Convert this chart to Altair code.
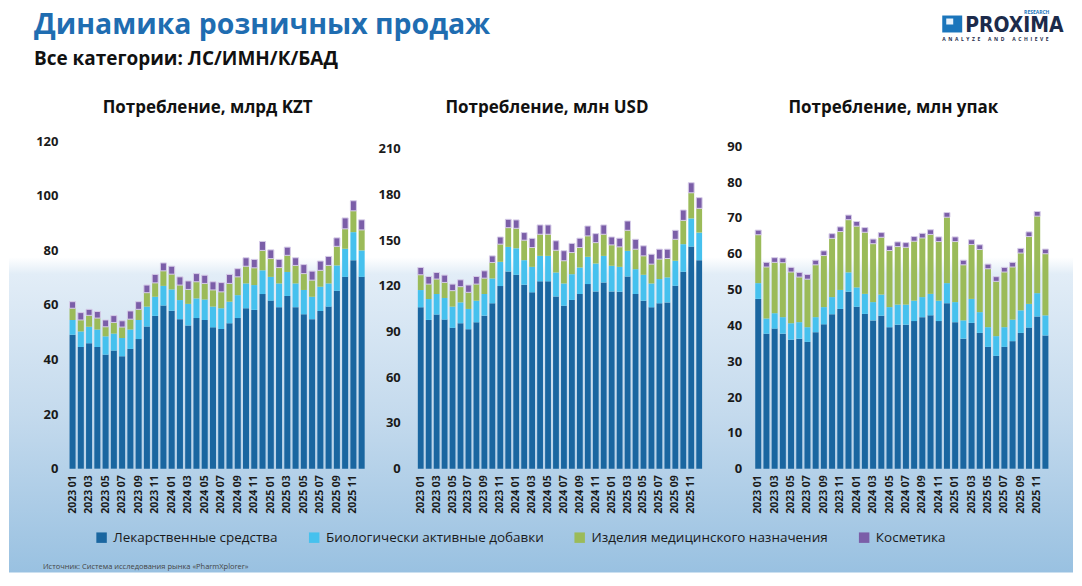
import altair as alt
import pandas as pd

years = ["2023", "2024", "2025"]
month_nums = ["01", "02", "03", "04", "05", "06", "07", "08", "09", "10", "11", "12"]
months = [f"{y} {m}" for y in years for m in month_nums]
tick_months = months[::2]

cats = ["Лекарственные средства", "Биологически активные добавки",
        "Изделия медицинского назначения", "Косметика"]
colors = ["#1a66a0", "#46c1ee", "#9bbb59", "#7b5ea8"]

# Потребление, млрд KZT
ls_kzt = [49.1, 44.6, 46.0, 44.6, 41.8, 43.3, 41.2, 43.9, 47.5, 52.1, 56.0, 59.8,
          57.9, 54.8, 52.5, 55.2, 54.5, 51.8, 51.2, 53.3, 55.2, 58.8, 58.2, 64.0,
          61.6, 59.2, 63.3, 59.2, 56.6, 54.8, 57.8, 59.4, 65.2, 70.3, 76.4, 70.3]
bad_kzt = [5.4, 5.7, 6.0, 6.4, 6.7, 6.2, 6.7, 7.1, 7.0, 7.3, 7.0, 7.2,
           7.8, 7.0, 7.9, 7.2, 7.5, 7.6, 7.6, 7.9, 8.4, 9.1, 9.1, 8.7,
           8.7, 8.7, 8.8, 8.7, 8.9, 8.2, 8.9, 8.5, 9.3, 10.3, 10.3, 9.7]
imn_kzt = [4.3, 4.2, 4.2, 4.2, 3.5, 4.1, 4.0, 3.8, 3.9, 5.1, 5.1, 5.5,
           5.6, 5.5, 5.3, 6.1, 5.9, 6.1, 6.0, 6.7, 6.7, 6.3, 6.3, 7.3,
           6.7, 5.8, 6.1, 6.6, 6.0, 6.1, 6.0, 6.6, 7.0, 7.3, 7.8, 7.5]
k_kzt = [2.4, 2.7, 2.2, 2.4, 2.5, 2.5, 2.3, 3.0, 2.8, 2.8, 3.1, 2.9,
         2.9, 3.0, 3.1, 3.0, 3.0, 3.0, 3.4, 3.3, 3.0, 3.1, 3.1, 3.3,
         3.2, 3.0, 3.0, 2.8, 3.3, 3.3, 3.4, 3.3, 3.1, 4.0, 3.7, 3.7]

# Потребление, млн USD
ls_usd = [105.9, 97.6, 101.1, 97.8, 92.4, 95.4, 91.5, 96.0, 100.4, 108.5, 119.8, 129.4,
          127.2, 120.7, 115.7, 122.9, 122.9, 113.0, 106.9, 110.7, 114.6, 121.1, 116.3, 122.2,
          116.3, 116.1, 126.1, 114.6, 110.2, 105.9, 108.5, 109.1, 120.0, 129.2, 145.7, 136.8]
bad_usd = [11.3, 13.7, 13.5, 14.2, 13.9, 13.7, 13.3, 14.2, 14.2, 16.3, 15.9, 16.1,
           17.4, 16.1, 16.7, 16.7, 16.7, 15.7, 14.6, 16.9, 17.4, 17.9, 18.3, 17.4,
           16.8, 16.3, 16.8, 16.3, 17.0, 15.6, 15.9, 16.4, 16.4, 18.1, 18.5, 18.1]
imn_usd = [10.0, 9.8, 9.8, 10.2, 10.5, 10.3, 10.9, 10.9, 10.4, 10.5, 11.6, 12.6,
           13.1, 13.1, 12.7, 14.2, 14.2, 14.6, 14.9, 14.2, 13.1, 13.7, 13.7, 14.2,
           13.7, 13.1, 13.5, 13.1, 12.4, 12.7, 13.1, 12.4, 14.1, 15.6, 16.8, 15.9]
k_usd = [4.8, 5.0, 4.3, 4.8, 4.3, 4.5, 4.8, 5.0, 4.8, 4.3, 4.7, 5.5,
         5.5, 5.0, 6.0, 6.1, 6.1, 6.2, 6.6, 6.0, 6.1, 6.5, 5.9, 6.1,
         5.2, 5.7, 6.1, 6.5, 6.6, 6.5, 6.5, 6.1, 5.9, 6.8, 6.6, 7.0]

# Потребление, млн упак
ls_pkg = [47.4, 37.7, 39.1, 37.7, 36.0, 36.3, 35.4, 38.1, 40.3, 43.1, 44.6, 49.4,
          45.2, 43.2, 41.4, 42.7, 39.5, 40.2, 40.2, 41.2, 42.3, 42.8, 41.2, 46.2,
          40.9, 36.3, 40.7, 37.9, 34.0, 31.5, 34.0, 35.6, 37.9, 39.4, 42.5, 37.2]
bad_pkg = [4.4, 4.2, 4.3, 4.6, 4.6, 4.6, 4.1, 4.2, 4.8, 4.8, 5.3, 5.4,
           5.4, 5.6, 5.1, 5.9, 5.6, 5.6, 5.6, 5.7, 5.6, 6.0, 5.7, 5.6,
           5.6, 5.1, 6.7, 5.8, 5.5, 5.5, 5.5, 6.0, 6.3, 6.6, 6.5, 5.6]
imn_pkg = [13.5, 14.4, 14.2, 15.2, 14.3, 12.6, 13.4, 14.6, 14.4, 16.4, 16.3, 14.7,
           17.1, 17.2, 16.3, 16.0, 15.8, 16.2, 16.0, 16.6, 16.5, 16.6, 16.5, 18.4,
           16.9, 15.5, 15.2, 17.5, 16.3, 15.3, 15.4, 14.7, 16.0, 18.8, 21.5, 17.2]
k_pkg = [1.3] * 36

FONT = "Open Sans"
NB = "\u00a0"


def long_df(series):
    rows = []
    for i, m in enumerate(months):
        for j, (c, arr) in enumerate(zip(cats, series)):
            rows.append({"month": m, "cat": c, "value": arr[i], "ord": j})
    return pd.DataFrame(rows)


one = pd.DataFrame({"k": [0]})


def text_layer(txt, x, y, size, weight="normal", color="#111111", align="left", font=FONT):
    return alt.Chart(one).mark_text(
        text=txt, align=align, baseline="alphabetic", font=font, fontSize=size,
        fontWeight=weight, color=color
    ).encode(x=alt.value(x), y=alt.value(y))


def rect_layer(x, x2, y, y2, color):
    return alt.Chart(one).mark_rect(color=color).encode(
        x=alt.value(x), x2=alt.value(x2), y=alt.value(y), y2=alt.value(y2))


def bars(df, ymax, ticks, label_pad, legend=None):
    color_kw = dict(scale=alt.Scale(domain=cats, range=colors), sort=cats)
    if legend is None:
        color = alt.Color("cat:N", legend=None, **color_kw)
    else:
        color = alt.Color("cat:N", legend=legend, **color_kw)
    return alt.Chart(df).mark_bar(stroke="#d6cce8").encode(
        x=alt.X("month:N", sort=months,
                scale=alt.Scale(paddingInner=0.27, paddingOuter=0.2),
                axis=alt.Axis(values=tick_months, labelAngle=-90, title=None,
                              labelFont=FONT, labelFontSize=10.5, labelFontWeight="bold",
                              labelColor="#1a1a1a", labelPadding=6, ticks=False,
                              domain=False, grid=False, zindex=1)),
        y=alt.Y("value:Q", stack="zero",
                scale=alt.Scale(domain=[0, ymax], nice=False, zero=True),
                axis=alt.Axis(values=ticks, title=None, labelFont=FONT, labelFontSize=13,
                              labelFontWeight="bold", labelColor="#1a1a1a",
                              labelPadding=label_pad, ticks=False, domain=False,
                              grid=False, zindex=1)),
        color=color,
        order=alt.Order("ord:Q"),
        strokeWidth=alt.condition("datum.cat == 'Косметика'", alt.value(1), alt.value(0)),
    )


H = 328
W1, W2, W3 = 299, 288, 297

bg = alt.Chart(one).mark_rect(
    color=alt.LinearGradient(
        gradient="linear", x1=0, x2=0, y1=0, y2=1,
        stops=[alt.GradientStop(color="#ffffff", offset=0),
               alt.GradientStop(color="#ffffff", offset=0.44),
               alt.GradientStop(color="#e2edf7", offset=0.47),
               alt.GradientStop(color="#c4daed", offset=0.72),
               alt.GradientStop(color="#99c1e1", offset=1)])
).encode(x=alt.value(-59), x2=alt.value(1007), y=alt.value(-132), y2=alt.value(432))

legend = alt.Legend(orient="none", legendX=27, legendY=390, direction="horizontal",
                    title=None, symbolType="square", symbolSize=110, symbolStrokeWidth=0,
                    labelFont=FONT, labelFontSize=13.5, labelColor="#1a1a1a", labelLimit=500,
                    columnPadding=29, labelOffset=5, zindex=1)

analyze = (NB * 2).join("ANALYZE") + NB * 6 + (NB * 2).join("AND") + NB * 6 + (NB * 2).join("ACHIEVE")

p1 = alt.layer(
    bg,
    bars(long_df([ls_kzt, bad_kzt, imn_kzt, k_kzt]), 120, [0, 20, 40, 60, 80, 100, 120], 10, legend),
    text_layer("Динамика розничных продаж", -34, -107, 28.5, "bold", "#1f6db1"),
    text_layer("Все категории: ЛС/ИМН/К/БАД", -34, -76, 19, "bold", "#111111"),
    text_layer("Потребление, млрд KZT", 140, -28, 17, "bold", "#111111", "center"),
    rect_layer(876, 896, -126, -109, "#1b75bb"),
    rect_layer(880, 887, -123, -117, "#e8f2fb"),
    text_layer("PROXIMA", 899, -109, 21, "bold", "#1c2b4b", "left", "DejaVu Sans Condensed"),
    text_layer("RESEARCH", 958, -127.5, 5, "bold", "#1b75bb"),
    text_layer(analyze, 876, -100, 5, "bold", "#1c2b4b"),
    text_layer("Источник: Система исследования рынка «PharmXplorer»", -25, 429, 7.5,
               "normal", "#444444"),
).properties(width=W1, height=H)

p2 = alt.layer(
    bars(long_df([ls_usd, bad_usd, imn_usd, k_usd]), 214.8, [0, 30, 60, 90, 120, 150, 180, 210], 16),
    text_layer("Потребление, млн USD", 131, -28, 17, "bold", "#111111", "center"),
).properties(width=W2, height=H)

p3 = alt.layer(
    bars(long_df([ls_pkg, bad_pkg, imn_pkg, k_pkg]), 91.4, [0, 10, 20, 30, 40, 50, 60, 70, 80, 90], 12),
    text_layer("Потребление, млн упак", 140, -28, 17, "bold", "#111111", "center"),
).properties(width=W3, height=H)

chart = alt.hconcat(p1, p2, p3, spacing=50, bounds="flush").resolve_legend(
    color="independent"
).properties(padding=0).configure_view(stroke="transparent")

chart.save("out.html", embed_options={"renderer": "svg", "actions": False})
